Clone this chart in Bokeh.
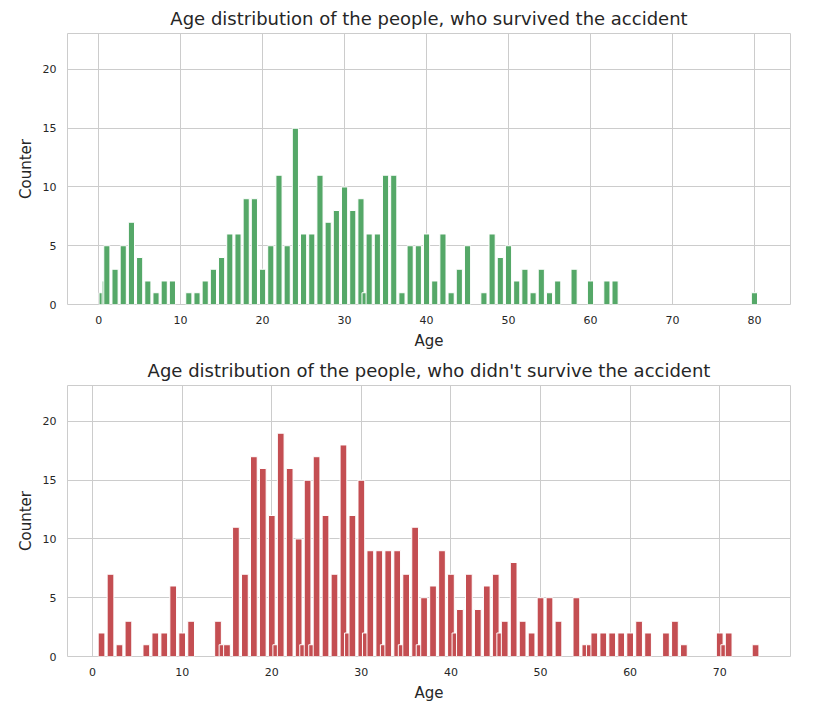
from bokeh.plotting import figure
from bokeh.layouts import column
from bokeh.models import Range1d, FixedTicker
from bokeh.embed import file_html
from bokeh.resources import INLINE

surv_age = [0.42, 0.8, 1, 2, 3, 4, 5, 6, 7, 8, 9, 11, 12, 13, 14, 15, 16, 17, 18, 19, 20,
            21, 22, 23, 24, 25, 26, 27, 28, 29, 30, 31, 32, 32.5, 33, 34, 35, 36, 37, 38, 39,
            40, 41, 42, 43, 44, 45, 47, 48, 49, 50, 51, 52, 53, 54, 55, 56, 58, 60, 62, 63, 80]
surv_cnt = [1, 2, 5, 3, 5, 7, 4, 2, 1, 2, 2, 1, 1, 2, 3, 4, 6, 6, 9, 9, 3,
            5, 11, 5, 15, 6, 6, 11, 7, 8, 10, 8, 9, 1, 6, 6, 11, 11, 1, 5, 5,
            6, 2, 6, 1, 3, 5, 1, 6, 4, 5, 2, 3, 1, 3, 1, 2, 3, 2, 2, 2, 1]

died_age = [1, 2, 3, 4, 6, 7, 8, 9, 10, 11, 14, 14.5, 15, 16, 17, 18, 19, 20, 20.5, 21, 22,
            23, 23.5, 24, 24.5, 25, 26, 27, 28, 28.5, 29, 30, 30.5, 31, 32, 32.5, 33, 34, 34.5,
            35, 36, 36.5, 37, 38, 39, 40, 40.5, 41, 42, 43, 44, 45, 45.5, 46, 47, 48, 49, 50,
            51, 52, 54, 55, 55.5, 56, 57, 58, 59, 60, 61, 62, 64, 65, 66, 70, 70.5, 71, 74]
died_cnt = [2, 7, 1, 3, 1, 2, 2, 6, 2, 3, 3, 1, 1, 11, 7, 17, 16, 12, 1, 19, 16,
            10, 1, 15, 1, 17, 12, 7, 18, 2, 12, 15, 2, 9, 9, 1, 9, 9, 1,
            7, 11, 1, 5, 6, 9, 7, 2, 4, 7, 4, 6, 7, 2, 3, 8, 3, 2, 5,
            5, 3, 5, 1, 1, 2, 2, 2, 2, 2, 3, 2, 2, 3, 1, 2, 1, 2, 1]

titles = ["Age distribution of the people, who survived the accident",
          "Age distribution of the people, who didn't survive the accident"]


def make(ages, cnts, color, title, xr, top_border):
    p = figure(frame_width=723, frame_height=271, output_backend="svg", toolbar_location=None,
               x_range=Range1d(*xr), y_range=Range1d(0, 23.06), min_border_left=67,
               min_border_right=8, min_border_top=top_border, min_border_bottom=10)
    p.vbar(x=ages, top=cnts, width=0.75, fill_color=color, line_color="white", line_width=1)
    p.title.text = title
    p.title.text_font = "DejaVu Sans"
    p.title.text_font_size = "18px"
    p.title.text_font_style = "normal"
    p.title.align = "center"
    p.title.text_color = "#262626"
    p.xaxis.axis_label = "Age"
    p.yaxis.axis_label = "Counter"
    for ax in (p.xaxis, p.yaxis):
        ax.axis_label_text_font = "DejaVu Sans"
        ax.axis_label_text_font_size = "15px"
        ax.axis_label_text_font_style = "normal"
        ax.axis_label_text_color = "#262626"
        ax.major_label_text_font = "DejaVu Sans"
        ax.major_label_text_font_size = "11px"
        ax.major_label_text_color = "#262626"
        ax.axis_line_color = None
        ax.major_tick_line_color = None
        ax.minor_tick_line_color = None
    p.yaxis.ticker = FixedTicker(ticks=[0, 5, 10, 15, 20])
    p.xaxis.ticker = FixedTicker(ticks=list(range(0, 90, 10)))
    p.grid.grid_line_color = "#cccccc"
    p.outline_line_color = "#cccccc"
    p.background_fill_color = "white"
    return p


p1 = make(surv_age, surv_cnt, "#55a868", titles[0], (-3.8, 84.4), 0)
p2 = make(died_age, died_cnt, "#c44e52", titles[1], (-2.8, 77.9), 14)
p = column(p1, p2)
open("out.html", "w").write(file_html(p, INLINE))
